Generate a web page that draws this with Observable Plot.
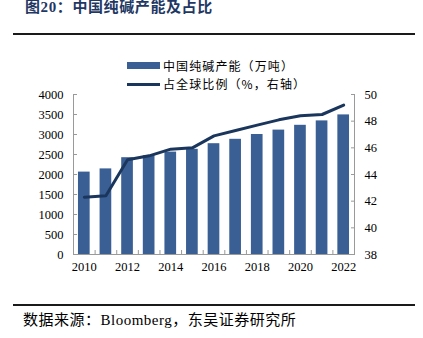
<!DOCTYPE html>
<html><head><meta charset="utf-8">
<script src="https://cdn.jsdelivr.net/npm/d3@7"></script>
<script src="https://cdn.jsdelivr.net/npm/@observablehq/plot@0.6"></script>
<style>
body{margin:0;background:#fff;}
#wrap{position:relative;width:423px;height:338px;overflow:hidden;font-family:"Liberation Serif","Noto Sans CJK SC",serif;color:#000;background:#fff;}
.title{position:absolute;left:25px;top:0px;font-size:15px;line-height:15px;font-weight:bold;color:#1f3864;white-space:nowrap;font-family:"Liberation Serif","Noto Sans CJK SC",serif;letter-spacing:0.6px;z-index:2;}
.rule{position:absolute;left:13px;width:402px;height:2px;background:#1a1a1a;}
.sw{position:absolute;left:127px;width:33px;z-index:2;}
.lt{position:absolute;left:163px;font-size:12px;line-height:12px;white-space:nowrap;font-family:"Noto Sans CJK SC",sans-serif;letter-spacing:1.1px;z-index:2;}
.cap{position:absolute;left:23px;top:313px;font-size:15px;line-height:15px;white-space:nowrap;letter-spacing:0.5px;font-family:"Liberation Serif","Noto Sans CJK SC",serif;}
#chart{position:absolute;left:0;top:88px;z-index:1;}
</style></head>
<body>
<div id="wrap">
  <div class="title">图20：中国纯碱产能及占比</div>
  <div class="rule" style="top:33px"></div>
  <div class="sw" style="top:62px;height:7px;background:#3a5f94"></div>
  <div class="lt" style="top:59.5px">中国纯碱产能（万吨）</div>
  <div class="sw" style="top:83px;height:3px;background:#1b365d"></div>
  <div class="lt" style="top:78px">占全球比例（%，右轴）</div>
  <div id="chart"></div>
  <div class="rule" style="top:304px"></div>
  <div class="cap">数据来源：Bloomberg，东吴证券研究所</div>
</div>
<script>
const years = [2010,2011,2012,2013,2014,2015,2016,2017,2018,2019,2020,2021,2022];
const capacity = [2060,2140,2420,2470,2560,2630,2770,2880,3000,3110,3230,3340,3490];
const share = [42.3,42.4,45.1,45.4,45.9,46.0,46.9,47.3,47.7,48.1,48.4,48.5,49.2];
const leftTicks = [0,500,1000,1500,2000,2500,3000,3500,4000];
const rightTicks = [38,40,42,44,46,48,50];
const xLabels = [2010,2012,2014,2016,2018,2020,2022];

const barColor = "#3a5f94";
const lineColor = "#1b365d";
const axisColor = "#9a9a9a";
const R0 = 38, R1 = 50, L1 = 4000;
const toLeft = v => (v - R0) / (R1 - R0) * L1;
const fromLeft = v => R0 + v / L1 * (R1 - R0);

const data = years.map((y, i) => ({year: y, capacity: capacity[i], share: share[i]}));
const bounds = d3.range(years[0] - 0.5, years[years.length - 1] + 1, 1);
const half = 0.27;

const chart = Plot.plot({
  width: 423,
  height: 192,
  marginTop: 6,
  marginBottom: 26,
  marginLeft: 73,
  marginRight: 69,
  style: {fontFamily: "Liberation Serif, serif", fontSize: "12.5px", color: "#000", background: "transparent", overflow: "visible"},
  x: {type: "linear", domain: [years[0] - 0.5, years[years.length - 1] + 0.5], label: null},
  y: {domain: [0, L1], label: null},
  marks: [
    Plot.rectY(data, {x1: d => d.year - half, x2: d => d.year + half, y: "capacity", fill: barColor}),
    Plot.ruleY([0], {stroke: axisColor}),
    Plot.ruleX([bounds[0], bounds[bounds.length - 1]], {stroke: axisColor}),
    Plot.axisY(leftTicks, {anchor: "left", tickSize: -4, stroke: axisColor, tickFormat: () => "", label: null}),
    Plot.axisY(leftTicks, {anchor: "left", tickSize: 0, tickPadding: 10, tickFormat: d => String(d), label: null}),
    Plot.axisY(rightTicks.map(toLeft), {anchor: "right", tickSize: -4, stroke: axisColor, tickFormat: () => "", label: null}),
    Plot.axisY(rightTicks.map(toLeft), {anchor: "right", tickSize: 0, tickPadding: 10, tickFormat: d => String(Math.round(fromLeft(d))), label: null}),
    Plot.axisX(bounds, {anchor: "bottom", tickSize: -4, stroke: axisColor, tickFormat: () => "", label: null}),
    Plot.axisX(xLabels, {anchor: "bottom", tickSize: 0, tickPadding: 8, tickFormat: d => String(d), label: null}),
    Plot.line(data, {x: "year", y: d => toLeft(d.share), stroke: lineColor, strokeWidth: 3})
  ]
});
document.getElementById("chart").appendChild(chart);
</script>
</body></html>
